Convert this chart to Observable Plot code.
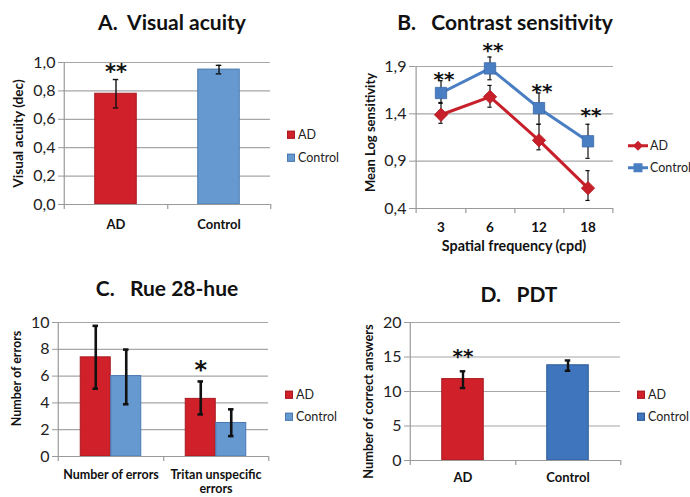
<!DOCTYPE html>
<html><head><meta charset="utf-8">
<script src="https://cdn.jsdelivr.net/npm/d3@7"></script>
<script src="https://cdn.jsdelivr.net/npm/@observablehq/plot@0.6"></script>
<style>
body{margin:0;background:#fff;font-family:Lato,"Noto Sans",sans-serif;}
#root{position:relative;width:690px;height:497px;overflow:hidden;background:#fff;}
.panel{position:absolute;}
.panel svg{overflow:visible;}
.title{position:absolute;font-weight:bold;font-size:21px;line-height:1;color:#111;white-space:pre;transform:translateX(-50%);}
.leg{position:absolute;font-size:12.5px;line-height:1;color:#222;white-space:nowrap;display:flex;align-items:center;transform:translateY(-50%);}
.sw{display:inline-block;width:8px;height:8px;margin-right:3px;box-sizing:border-box;}
</style></head><body><div id="root"></div>
<script>
// ---------- data ----------
const groups = ["AD", "Control"];

// A. Visual acuity
const acuityMean = [0.78, 0.95];
const acuityLo = [0.68, 0.92];
const acuityHi = [0.88, 0.98];
const acuityStar = ["**", ""];
const acuityStarY = [0.93, null];
const acuityTicks = [0, 0.2, 0.4, 0.6, 0.8, 1.0];

// B. Contrast sensitivity
const freqs = ["3", "6", "12", "18"];
const csAD = [1.39, 1.58, 1.12, 0.615];
const csADLo = [1.30, 1.47, 1.02, 0.485];
const csADHi = [1.52, 1.70, 1.29, 0.80];
const csCtrl = [1.62, 1.88, 1.46, 1.11];
const csCtrlLo = [1.51, 1.76, 1.29, 0.93];
const csCtrlHi = [1.75, 2.00, 1.62, 1.29];
const csStar = ["**", "**", "**", "**"];
const csStarY = [1.76, 2.07, 1.63, 1.38];
const csTicks = [0.4, 0.9, 1.4, 1.9];

// C. Rue 28-hue
const hueCats = ["Number of errors", "Tritan unspecific\nerrors"];
const hueAD = [7.4, 4.3];
const hueADLo = [5.06, 3.14];
const hueADHi = [9.75, 5.6];
const hueCtrl = [6.0, 2.5];
const hueCtrlLo = [3.9, 1.52];
const hueCtrlHi = [7.98, 3.52];
const hueStar = ["", "*"];
const hueStarY = [null, 6.4];
const hueTicks = [0, 2, 4, 6, 8, 10];

// D. PDT
const pdtMean = [11.8, 13.8];
const pdtLo = [10.5, 13.0];
const pdtHi = [12.93, 14.5];
const pdtStar = ["**", ""];
const pdtStarY = [15.1, null];
const pdtTicks = [0, 5, 10, 15, 20];

// ---------- styles ----------
const RED = "#D0212A", RED_EDGE = "#A81A20";
const BLUE = "#6699D0", BLUE_EDGE = "#4A78B0";
const BLUE_D = "#3F75BC", BLUE_D_EDGE = "#2D5A96";
const LINE_RED = "#C8202A", LINE_BLUE = "#4A7EC2";
const GRID = "#A6A6A6", AXIS = "#9A9A9A";
const STAR_FONT = "'DejaVu Sans', sans-serif";
const comma = d3.format(".1f");
const fmtComma = v => comma(v).replace(".", ",");

const root = document.getElementById("root");

function place(node, left, top) {
  const d = document.createElement("div");
  d.className = "panel";
  d.style.left = left + "px"; d.style.top = top + "px";
  d.appendChild(node);
  root.appendChild(d);
}
function title(text, cx, top) {
  const d = document.createElement("div");
  d.className = "title"; d.textContent = text;
  d.style.left = cx + "px"; d.style.top = top + "px";
  root.appendChild(d);
}
function legendBox(x, y, label, color, edge) {
  const d = document.createElement("div");
  d.className = "leg";
  d.style.left = x + "px"; d.style.top = y + "px";
  d.innerHTML = `<span class="sw" style="background:${color};border:1px solid ${edge}"></span>${label}`;
  root.appendChild(d);
}
function legendLine(x, y, label, color, symbol) {
  const d = document.createElement("div");
  d.className = "leg";
  d.style.left = x + "px"; d.style.top = y + "px";
  const mk = symbol === "diamond"
    ? `<path d="M10,1 L15,6 L10,11 L5,6 Z" fill="${color}"/>`
    : `<rect x="5.5" y="1.5" width="9" height="9" fill="${color}"/>`;
  d.innerHTML = `<svg width="20" height="12" style="margin-right:2px"><line x1="0" x2="20" y1="6" y2="6" stroke="${color}" stroke-width="3"/>${mk}</svg>${label}`;
  root.appendChild(d);
}

const baseStyle = {fontFamily: "Lato, 'Noto Sans', sans-serif", fontSize: "14px", background: "transparent", overflow: "visible", color: "#222"};

function yTitle(label, dx, dy, size) {
  return Plot.text([label], {frameAnchor: "left", rotate: -90, dx: -dx, dy, textAnchor: "middle", lineAnchor: "middle", fontWeight: "bold", fontSize: size, fill: "#111"});
}

// ---------- simple two-bar panel (A, D) ----------
function barPanel(c) {
  const rows = groups.map((g, i) => ({g, v: c.mean[i], lo: c.lo[i], hi: c.hi[i], star: c.star[i], sy: c.starY[i]}));
  const step = (c.W - c.mL - c.mR) / groups.length;
  const yMax = c.ticks[c.ticks.length - 1];
  const tl = 5 * yMax / (c.H - c.mT - c.mB);
  const bi = (step - c.barW) / 2, ci = (step - c.capW) / 2;
  return Plot.plot({
    width: c.W, height: c.H, marginLeft: c.mL, marginRight: c.mR, marginTop: c.mT, marginBottom: c.mB,
    style: baseStyle,
    x: {type: "band", domain: groups, padding: 0, axis: null},
    y: {domain: [0, yMax], axis: null},
    marks: [
      Plot.ruleY(c.ticks.filter(v => v > 0), {stroke: GRID, strokeWidth: 1.2}),
      ...groups.map((g, i) => Plot.barY(rows.filter(r => r.g === g), {x: "g", y: "v", fill: c.fills[i], stroke: c.edges[i], strokeWidth: 1, insetLeft: bi, insetRight: bi})),
      Plot.ruleY([0], {stroke: AXIS, strokeWidth: 1.2}),
      Plot.ruleX([groups[0]], {dx: -step / 2, y1: -tl, y2: yMax, stroke: AXIS, strokeWidth: 1.2}),
      Plot.ruleX(groups, {dx: step / 2, y1: -tl, y2: 0, stroke: AXIS, strokeWidth: 1.2}),
      Plot.ruleX(rows, {x: "g", y1: "lo", y2: "hi", stroke: "#111", strokeWidth: c.errW}),
      Plot.tickY(rows, {x: "g", y: "lo", stroke: "#111", strokeWidth: c.errW, insetLeft: ci, insetRight: ci}),
      Plot.tickY(rows, {x: "g", y: "hi", stroke: "#111", strokeWidth: c.errW, insetLeft: ci, insetRight: ci}),
      Plot.text(rows.filter(r => r.star), {x: "g", y: "sy", text: "star", fontFamily: STAR_FONT, fontWeight: "bold", fontSize: c.starSize, fill: "#111"}),
      Plot.axisY({ticks: c.ticks, tickFormat: c.fmt, tickSize: 5, tickPadding: 3, stroke: AXIS, fill: "#222", fontSize: 16, label: null}),
      Plot.axisX({tickSize: 0, tickPadding: c.xPad, fontWeight: "bold", fontSize: 13, fill: "#111", label: null}),
      yTitle(c.yLabel, c.yLabelDx, c.yLabelDy, c.yLabelSize)
    ]
  });
}

// A
place(barPanel({
  W: 345, H: 248, mL: 63, mR: 75, mT: 62, mB: 44,
  mean: acuityMean, lo: acuityLo, hi: acuityHi, star: acuityStar, starY: acuityStarY,
  ticks: acuityTicks, fmt: fmtComma, fills: [RED, BLUE], edges: [RED_EDGE, BLUE_EDGE],
  barW: 42, capW: 6, errW: 1.4, starSize: 21, xPad: 15,
  yLabel: "Visual acuity (dec)", yLabelDx: 45, yLabelDy: 0, yLabelSize: 13.6
}), 0, 0);
title("A.  Visual acuity", 172, 11);
legendBox(287, 135, "AD", RED, RED_EDGE);
legendBox(287, 158, "Control", BLUE, BLUE_EDGE);

// D
place(barPanel({
  W: 345, H: 249, mL: 64, mR: 70, mT: 74, mB: 37,
  mean: pdtMean, lo: pdtLo, hi: pdtHi, star: pdtStar, starY: pdtStarY,
  ticks: pdtTicks, fmt: d3.format("d"), fills: [RED, BLUE_D], edges: [RED_EDGE, BLUE_D_EDGE],
  barW: 42, capW: 6, errW: 2.4, starSize: 20, xPad: 12,
  yLabel: "Number of correct answers", yLabelDx: 41, yLabelDy: 10, yLabelSize: 12.8
}), 345, 248);
title("D.   PDT", 519, 283);
legendBox(637, 395, "AD", RED, RED_EDGE);
legendBox(637, 417, "Control", BLUE_D, BLUE_D_EDGE);

// ---------- C grouped bars ----------
(function () {
  const W = 345, H = 249, mL = 57, mR = 77, mT = 74, mB = 41;
  const rows = hueCats.map((c, i) => ({c, ad: hueAD[i], adLo: hueADLo[i], adHi: hueADHi[i], ct: hueCtrl[i], ctLo: hueCtrlLo[i], ctHi: hueCtrlHi[i], star: hueStar[i], sy: hueStarY[i]}));
  const step = (W - mL - mR) / hueCats.length;
  const yMax = 10;
  const tl = 5 * yMax / (H - mT - mB);
  const barW = 30.5, half = step / 2, outer = half - barW;
  const off = barW / 2, capW = 6;
  const capAD = half - off - capW / 2, capADr = step - capAD - capW;
  const errW = 2.6;
  const svg = Plot.plot({
    width: W, height: H, marginLeft: mL, marginRight: mR, marginTop: mT, marginBottom: mB,
    style: baseStyle,
    x: {type: "band", domain: hueCats, padding: 0, axis: null},
    y: {domain: [0, yMax], axis: null},
    marks: [
      Plot.ruleY(hueTicks.filter(v => v > 0), {stroke: GRID, strokeWidth: 1.2}),
      Plot.barY(rows, {x: "c", y: "ad", fill: RED, stroke: RED_EDGE, insetLeft: outer, insetRight: half}),
      Plot.barY(rows, {x: "c", y: "ct", fill: BLUE, stroke: BLUE_EDGE, insetLeft: half, insetRight: outer}),
      Plot.ruleY([0], {stroke: AXIS, strokeWidth: 1.2}),
      Plot.ruleX([hueCats[0]], {dx: -step / 2, y1: -tl, y2: yMax, stroke: AXIS, strokeWidth: 1.2}),
      Plot.ruleX(hueCats, {dx: step / 2, y1: -tl, y2: 0, stroke: AXIS, strokeWidth: 1.2}),
      Plot.ruleX(rows, {x: "c", y1: "adLo", y2: "adHi", dx: -off, stroke: "#111", strokeWidth: errW}),
      Plot.ruleX(rows, {x: "c", y1: "ctLo", y2: "ctHi", dx: off, stroke: "#111", strokeWidth: errW}),
      Plot.tickY(rows, {x: "c", y: "adLo", stroke: "#111", strokeWidth: errW, insetLeft: capAD, insetRight: capADr}),
      Plot.tickY(rows, {x: "c", y: "adHi", stroke: "#111", strokeWidth: errW, insetLeft: capAD, insetRight: capADr}),
      Plot.tickY(rows, {x: "c", y: "ctLo", stroke: "#111", strokeWidth: errW, insetLeft: capADr, insetRight: capAD}),
      Plot.tickY(rows, {x: "c", y: "ctHi", stroke: "#111", strokeWidth: errW, insetLeft: capADr, insetRight: capAD}),
      Plot.text(rows.filter(r => r.star), {x: "c", y: "sy", text: "star", dx: -off, fontFamily: STAR_FONT, fontWeight: "bold", fontSize: 24, fill: "#111"}),
      Plot.axisY({ticks: hueTicks, tickFormat: d3.format("d"), tickSize: 5, tickPadding: 3, stroke: AXIS, fill: "#222", fontSize: 16, label: null}),
      Plot.axisX({tickSize: 0, tickPadding: 12, fontWeight: "bold", fontSize: 12.5, fill: "#111", label: null, lineHeight: 1.15}),
      yTitle("Number of errors", 41, -11, 12.5)
    ]
  });
  place(svg, 0, 248);
  title("C.   Rue 28-hue", 167, 277);
  legendBox(285, 395, "AD", RED, RED_EDGE);
  legendBox(285, 417, "Control", BLUE, BLUE_EDGE);
})();

// ---------- B line chart ----------
(function () {
  const W = 345, H = 265, mL = 69, mR = 77, mT = 66, mB = 57;
  const ad = freqs.map((f, i) => ({f, v: csAD[i], lo: csADLo[i], hi: csADHi[i]}));
  const ct = freqs.map((f, i) => ({f, v: csCtrl[i], lo: csCtrlLo[i], hi: csCtrlHi[i]}));
  const stars = freqs.map((f, i) => ({f, s: csStar[i], y: csStarY[i]}));
  const step = (W - mL - mR) / freqs.length;
  const yMin = 0.4, yMax = 1.9;
  const tl = 5 * (yMax - yMin) / (H - mT - mB);
  const ci = (step - 5) / 2;
  const errMarks = rows => [
    Plot.ruleX(rows, {x: "f", y1: "lo", y2: "hi", stroke: "#111", strokeWidth: 1.2}),
    Plot.tickY(rows, {x: "f", y: "lo", stroke: "#111", strokeWidth: 1.2, insetLeft: ci, insetRight: ci}),
    Plot.tickY(rows, {x: "f", y: "hi", stroke: "#111", strokeWidth: 1.2, insetLeft: ci, insetRight: ci})
  ];
  const svg = Plot.plot({
    width: W, height: H, marginLeft: mL, marginRight: mR, marginTop: mT, marginBottom: mB,
    style: baseStyle,
    x: {type: "band", domain: freqs, padding: 0, axis: null},
    y: {domain: [yMin, yMax], axis: null},
    marks: [
      Plot.ruleY(csTicks.filter(v => v > yMin), {stroke: GRID, strokeWidth: 1.2}),
      Plot.ruleY([yMin], {stroke: AXIS, strokeWidth: 1.2}),
      Plot.ruleX([freqs[0]], {dx: -step / 2, y1: yMin - tl, y2: yMax, stroke: AXIS, strokeWidth: 1.2}),
      Plot.ruleX(freqs, {dx: step / 2, y1: yMin - tl, y2: yMin, stroke: AXIS, strokeWidth: 1.2}),
      ...errMarks(ad), ...errMarks(ct),
      Plot.line(ad, {x: "f", y: "v", stroke: LINE_RED, strokeWidth: 3}),
      Plot.line(ct, {x: "f", y: "v", stroke: LINE_BLUE, strokeWidth: 3}),
      Plot.dot(ad, {x: "f", y: "v", symbol: "diamond2", r: 6, fill: LINE_RED, stroke: "#B01A22", strokeWidth: 0.8}),
      Plot.dot(ct, {x: "f", y: "v", symbol: "square", r: 6.4, fill: LINE_BLUE, stroke: "#3A68A8", strokeWidth: 0.8}),
      Plot.text(stars, {x: "f", y: "y", text: "s", dx: 3, fontFamily: STAR_FONT, fontWeight: "bold", fontSize: 20, fill: "#111"}),
      Plot.axisY({ticks: csTicks, tickFormat: fmtComma, tickSize: 5, tickPadding: 3, stroke: AXIS, fill: "#222", fontSize: 16, label: null}),
      Plot.axisX({tickSize: 0, tickPadding: 14, fontWeight: "bold", fontSize: 13.5, fill: "#111", label: null}),
      Plot.text(["Spatial frequency (cpd)"], {frameAnchor: "bottom", dy: 42, fontWeight: "bold", fontSize: 14.3, fill: "#111"}),
      yTitle("Mean Log sensitivity", 44, -5, 13)
    ]
  });
  place(svg, 345, 0);
  title("B.   Contrast sensitivity", 505, 11);
  legendLine(628, 146, "AD", LINE_RED, "diamond");
  legendLine(628, 168, "Control", LINE_BLUE, "square");
})();
</script></body></html>
